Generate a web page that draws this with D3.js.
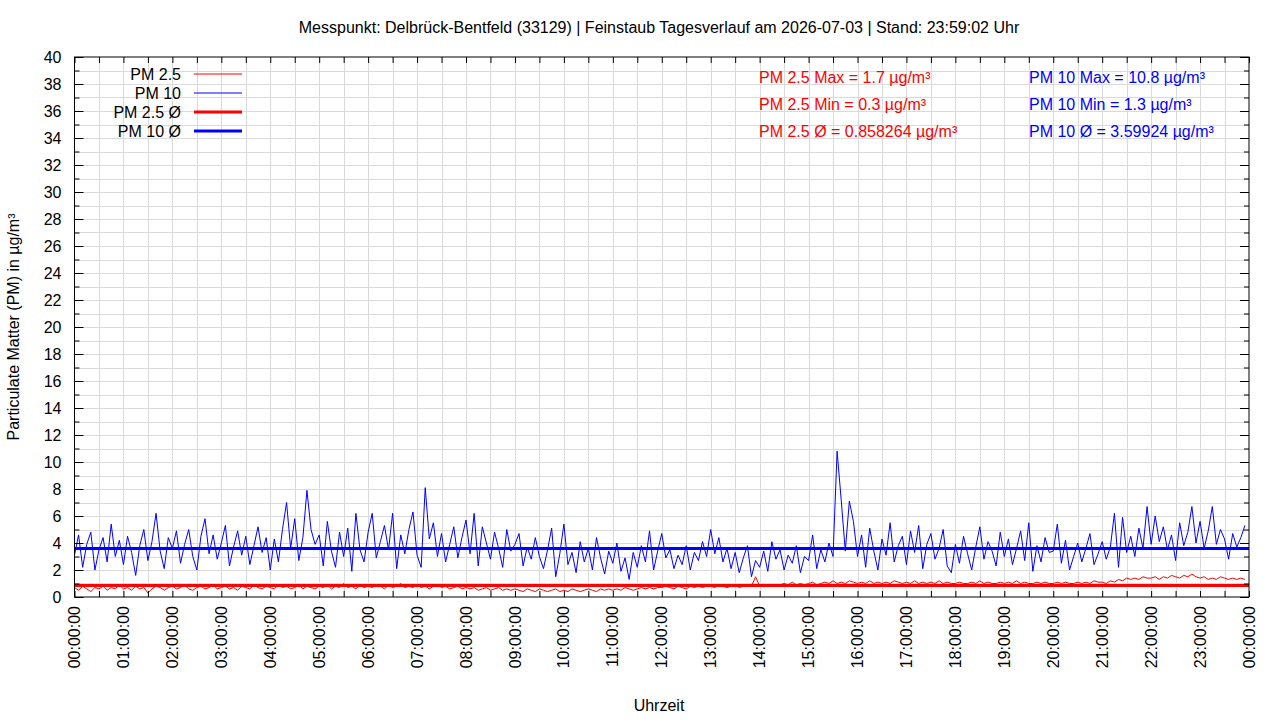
<!DOCTYPE html>
<html>
<head>
<meta charset="utf-8">
<script src="https://cdn.jsdelivr.net/npm/d3@7"></script>
<style>
  body { margin: 0; background: #fff; }
  svg text { font-family: "Liberation Sans", Arial, sans-serif; font-size: 16px; fill: #000; }
</style>
</head>
<body>
<script>
// Messpunkt Delbrück-Bentfeld, 5-Minuten-Werte, 12 Werte je Stunde
var pm10 = [
  3.1, 4.6, 2.2, 3.9, 4.8, 2.0, 3.5, 4.4, 2.6, 5.4, 3.0, 4.2,
  2.4, 4.5, 3.3, 1.6, 3.8, 5.0, 2.7, 4.1, 6.2, 3.4, 2.1, 4.4,
  3.6, 4.9, 2.5, 3.9, 5.0, 3.0, 2.0, 4.5, 5.8, 3.2, 4.6, 2.8,
  4.0, 5.3, 2.3, 3.7, 4.9, 3.1, 4.5, 2.4, 3.8, 5.2, 3.3, 4.4,
  2.0, 4.3, 2.6, 5.0, 7.0, 3.6, 5.8, 2.7, 4.4, 7.9, 5.0, 3.9,
  4.6, 2.3, 5.6, 3.4, 2.2, 4.8, 3.0, 5.1, 1.9, 6.2, 3.5, 2.6,
  4.8, 6.2, 2.9, 4.1, 5.3, 3.5, 6.2, 2.1, 4.6, 3.2, 5.0, 6.3,
  3.1, 2.2, 8.1, 4.3, 5.5, 3.0, 4.7, 2.6, 3.9, 5.2, 2.9, 4.4,
  5.7, 3.2, 6.2, 2.3, 5.2, 4.0, 2.8, 4.8, 3.6, 2.2, 5.0, 3.4,
  3.9, 4.7, 2.3, 3.7, 2.8, 4.4, 3.0, 2.1, 3.5, 5.1, 1.5, 3.2,
  5.4, 2.4, 3.3, 1.8, 4.1, 2.6, 3.6, 2.0, 4.4, 2.9, 1.7, 3.4,
  2.5, 4.0, 1.9, 2.9, 1.3, 3.3, 2.2, 3.8, 2.6, 4.9, 2.0, 3.4,
  4.7, 2.9, 3.5, 2.1, 3.1, 2.4, 3.8, 2.0, 3.3, 2.7, 4.1, 3.0,
  5.0, 3.2, 4.4, 2.6, 3.6, 2.1, 3.3, 1.8, 2.9, 3.8, 1.5, 2.7,
  2.2, 3.4, 1.9, 4.1, 2.8, 3.5, 2.0, 3.1, 2.5, 3.8, 1.8, 3.0,
  2.7, 4.6, 2.1, 3.5, 2.6, 4.0, 3.0, 10.8, 7.2, 3.4, 7.1, 5.6,
  3.0, 4.6, 2.2, 5.1, 3.4, 2.0, 4.3, 3.1, 5.5, 2.6, 3.8, 4.5,
  2.4, 4.9, 3.3, 5.3, 2.1, 3.9, 4.7, 2.8, 3.6, 5.0, 2.3, 1.8,
  3.9, 2.5, 4.5, 3.2, 2.0, 3.7, 5.2, 2.8, 4.1, 3.4, 2.3, 4.8,
  3.0, 4.3, 2.4, 3.6, 4.9, 2.7, 5.5, 1.9, 3.8, 2.6, 4.4, 3.3,
  3.4, 5.4, 2.5, 4.2, 2.0, 3.0, 4.0, 2.6, 3.6, 4.7, 2.4, 3.2,
  4.1, 2.8, 3.7, 6.2, 2.2, 5.9, 3.3, 4.5, 3.0, 5.1, 3.6, 6.7,
  3.9, 6.0, 4.1, 5.2, 3.5, 4.6, 2.7, 5.5, 3.8, 4.8, 6.7, 4.0,
  5.6, 3.6, 4.9, 6.7, 3.9, 5.0, 4.3, 2.8, 4.7, 3.7, 4.4, 5.3
];
var pm25 = [
  0.7, 0.5, 0.8, 0.6, 0.4, 0.7, 0.6, 0.8, 0.5, 0.7, 0.6, 0.9,
  0.6, 0.7, 0.5, 0.8, 0.6, 0.7, 0.3, 0.6, 0.8, 0.7, 0.5, 0.7,
  0.8, 0.6, 0.7, 0.9, 0.6, 0.5, 0.7, 0.8, 0.6, 0.7, 0.9, 0.6,
  0.7, 0.8, 0.6, 0.7, 0.5, 0.8, 0.7, 0.6, 0.9, 0.7, 0.6, 0.8,
  0.7, 0.6, 0.9, 0.7, 0.8, 0.6, 0.7, 0.9, 0.6, 0.8, 0.7, 0.6,
  0.8, 0.7, 0.9, 0.6, 0.8, 0.7, 1.0, 0.7, 0.8, 0.6, 0.9, 0.7,
  0.8, 0.7, 0.9, 0.8, 0.6, 0.9, 0.7, 0.8, 1.0, 0.7, 0.8, 0.7,
  0.9, 0.7, 0.8, 0.6, 0.8, 0.9, 0.7, 0.8, 0.6, 0.7, 0.8, 0.6,
  0.7, 0.6, 0.7, 0.5, 0.6, 0.7, 0.5, 0.6, 0.7, 0.5, 0.6, 0.5,
  0.6, 0.5, 0.4, 0.6, 0.5, 0.4, 0.6, 0.5, 0.4, 0.5, 0.6, 0.4,
  0.5, 0.4, 0.6, 0.5, 0.4, 0.5, 0.6, 0.5, 0.4, 0.6, 0.5, 0.6,
  0.5, 0.6, 0.5, 0.7, 0.6, 0.5, 0.6, 0.7, 0.6, 0.7, 0.6, 0.7,
  0.7, 0.8, 0.7, 0.6, 0.8, 0.7, 0.6, 0.8, 0.7, 0.8, 0.7, 0.8,
  0.8, 0.7, 0.9, 0.8, 0.7, 0.8, 0.9, 0.7, 0.8, 0.9, 0.8, 1.5,
  0.8, 0.9, 0.8, 0.9, 0.8, 0.9, 1.0, 0.9, 1.1, 0.9, 1.0, 0.9,
  1.0, 1.1, 0.9, 1.0, 1.1, 1.0, 1.2, 1.0, 1.1, 1.0, 1.2, 1.1,
  1.0, 1.1, 1.0, 1.2, 1.0, 1.1, 1.0, 1.1, 1.0, 1.2, 1.1, 1.0,
  1.1, 1.0, 1.2, 1.0, 1.1, 1.0, 1.1, 1.0, 1.2, 1.0, 1.1, 1.0,
  1.0, 1.1, 1.0, 1.0, 1.1, 1.0, 1.2, 1.0, 1.1, 1.0, 1.0, 1.1,
  1.0, 1.1, 1.0, 1.2, 1.0, 1.1, 1.0, 1.0, 1.1, 1.0, 1.1, 1.0,
  1.0, 1.1, 1.0, 1.1, 1.0, 1.0, 1.1, 1.0, 1.1, 1.0, 1.2, 1.1,
  1.1, 1.0, 1.2, 1.1, 1.3, 1.2, 1.4, 1.3, 1.4, 1.3, 1.5, 1.4,
  1.4, 1.5, 1.3, 1.5, 1.4, 1.6, 1.5, 1.4, 1.6, 1.5, 1.7, 1.5,
  1.4, 1.5, 1.3, 1.4, 1.3, 1.5, 1.4, 1.3, 1.4, 1.3, 1.4, 1.3
];
var pm25Avg = 0.858264;
var pm10Avg = 3.59924;
var hourLabels = ["00:00:00","01:00:00","02:00:00","03:00:00","04:00:00","05:00:00",
  "06:00:00","07:00:00","08:00:00","09:00:00","10:00:00","11:00:00","12:00:00",
  "13:00:00","14:00:00","15:00:00","16:00:00","17:00:00","18:00:00","19:00:00",
  "20:00:00","21:00:00","22:00:00","23:00:00","00:00:00"];
var legendLabels = ["PM 2.5", "PM 10", "PM 2.5 Ø", "PM 10 Ø"];
var statsPm25 = ["PM 2.5 Max = 1.7 µg/m³", "PM 2.5 Min = 0.3 µg/m³", "PM 2.5 Ø = 0.858264 µg/m³"];
var statsPm10 = ["PM 10 Max = 10.8 µg/m³", "PM 10 Min = 1.3 µg/m³", "PM 10 Ø = 3.59924 µg/m³"];
var title = "Messpunkt: Delbrück-Bentfeld (33129) | Feinstaub Tagesverlauf am 2026-07-03 | Stand: 23:59:02 Uhr";

var w = 1280, h = 720;
var plotL = 74.5, plotR = 1249, plotT = 57, plotB = 597;

var svg = d3.select("body").append("svg")
    .attr("width", w)
    .attr("height", h);

var x = d3.scaleLinear().domain([0, 1440]).range([plotL, plotR]);
var y = d3.scaleLinear().domain([0, 40]).range([plotB, plotT]);

var minutes = pm10.map(function(d, i) { return i * 5; }); // 5-minute steps

// grid
var grid = svg.append("g").attr("stroke", "#dadada").attr("stroke-width", 1).attr("shape-rendering", "crispEdges");
grid.selectAll("line.v").data(d3.range(30, 1440, 30)).enter().append("line")
    .attr("x1", function(d) { return Math.round(x(d)) + 0.5; })
    .attr("x2", function(d) { return Math.round(x(d)) + 0.5; })
    .attr("y1", plotT).attr("y2", plotB);
grid.selectAll("line.h").data(d3.range(1, 40)).enter().append("line")
    .attr("y1", function(d) { return Math.round(y(d)) + 0.5; })
    .attr("y2", function(d) { return Math.round(y(d)) + 0.5; })
    .attr("x1", plotL).attr("x2", plotR);

// data lines
var line = d3.line()
    .x(function(d, i) { return x(minutes[i]); })
    .y(function(d) { return y(d); });

svg.append("path").datum(pm25)
    .attr("d", line).attr("fill", "none").attr("stroke", "#ff0000").attr("stroke-width", 1);
svg.append("path").datum(pm10)
    .attr("d", line).attr("fill", "none").attr("stroke", "#0000ff").attr("stroke-width", 1);

// averages
svg.append("line").attr("x1", plotL).attr("x2", plotR)
    .attr("y1", y(pm25Avg)).attr("y2", y(pm25Avg))
    .attr("stroke", "#ff0000").attr("stroke-width", 3);
svg.append("line").attr("x1", plotL).attr("x2", plotR)
    .attr("y1", y(pm10Avg)).attr("y2", y(pm10Avg))
    .attr("stroke", "#0000ff").attr("stroke-width", 3);

// axes
function clean(g) { g.select(".domain").remove(); g.selectAll("line").attr("stroke", "#000"); }

svg.append("g").attr("transform", "translate(" + plotL + ",0)")
    .call(d3.axisLeft(y).tickValues(d3.range(0, 41, 2)).tickSize(-9).tickPadding(13))
    .call(clean)
    .call(function(g) { g.selectAll("text").attr("font-size", null).attr("font-family", null); });
svg.append("g").attr("transform", "translate(" + plotL + ",0)")
    .call(d3.axisLeft(y).tickValues(d3.range(1, 40, 2)).tickSize(-5).tickFormat(""))
    .call(clean);
svg.append("g").attr("transform", "translate(" + plotR + ",0)")
    .call(d3.axisRight(y).tickValues(d3.range(0, 41, 2)).tickSize(-9).tickFormat(""))
    .call(clean);
svg.append("g").attr("transform", "translate(" + plotR + ",0)")
    .call(d3.axisRight(y).tickValues(d3.range(1, 40, 2)).tickSize(-5).tickFormat(""))
    .call(clean);
svg.append("g").attr("transform", "translate(0," + plotB + ")")
    .call(d3.axisBottom(x).tickValues(d3.range(0, 1441, 30)).tickSize(-6).tickFormat(""))
    .call(clean);
svg.append("g").attr("transform", "translate(0," + plotT + ")")
    .call(d3.axisTop(x).tickValues(d3.range(0, 1441, 30)).tickSize(-6).tickFormat(""))
    .call(clean);

// frame
svg.append("rect").attr("x", plotL).attr("y", plotT)
    .attr("width", plotR - plotL).attr("height", plotB - plotT)
    .attr("fill", "none").attr("stroke", "#000").attr("stroke-width", 1);

// x tick labels, rotated
svg.append("g").selectAll("text").data(hourLabels).enter().append("text")
    .attr("transform", function(d, i) { return "translate(" + x(i * 60) + ",606) rotate(-90)"; })
    .attr("text-anchor", "end")
    .attr("dy", "0.35em")
    .text(function(d) { return d; });

// titles
svg.append("text").attr("x", 659).attr("y", 33).attr("text-anchor", "middle").text(title);
svg.append("text").attr("x", 659).attr("y", 711).attr("text-anchor", "middle").text("Uhrzeit");
svg.append("text")
    .attr("transform", "translate(19,327) rotate(-90)")
    .attr("text-anchor", "middle")
    .text("Particulate Matter (PM) in µg/m³");

// legend
var legColors = ["#ff0000", "#0000ff", "#ff0000", "#0000ff"];
var legWidths = [1, 1, 3, 3];
var leg = svg.append("g").selectAll("g").data(legendLabels).enter().append("g")
    .attr("transform", function(d, i) { return "translate(0," + (74 + i * 19) + ")"; });
leg.append("text").attr("x", 181).attr("dy", "0.35em").attr("text-anchor", "end")
    .text(function(d) { return d; });
leg.append("line").attr("x1", 194).attr("x2", 242)
    .attr("stroke", function(d, i) { return legColors[i]; })
    .attr("stroke-width", function(d, i) { return legWidths[i]; });

// stats
svg.append("g").selectAll("text").data(statsPm25).enter().append("text")
    .attr("x", 759).attr("y", function(d, i) { return 83 + i * 27; })
    .style("fill", "#ff0000").text(function(d) { return d; });
svg.append("g").selectAll("text").data(statsPm10).enter().append("text")
    .attr("x", 1029).attr("y", function(d, i) { return 83 + i * 27; })
    .style("fill", "#0000ff").text(function(d) { return d; });
</script>
</body>
</html>
